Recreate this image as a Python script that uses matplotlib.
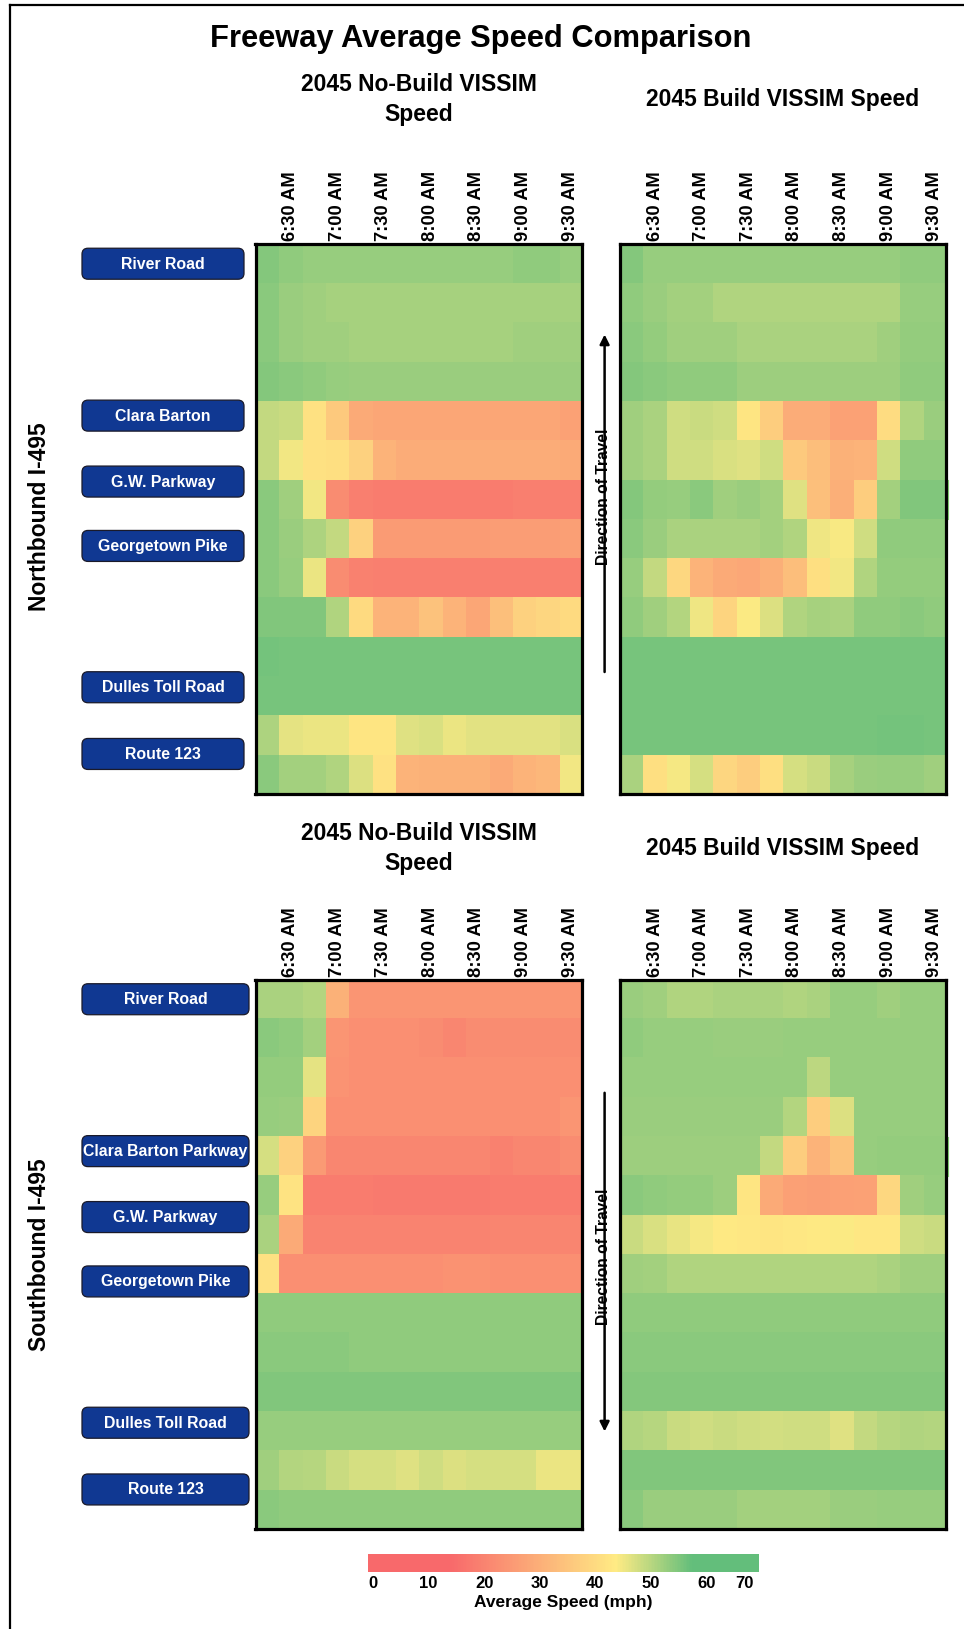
import numpy as np
import matplotlib
matplotlib.use("Agg")
import matplotlib.pyplot as plt
import matplotlib.colors as mcolors
from matplotlib import font_manager
from matplotlib.patches import FancyBboxPatch, FancyArrowPatch
from matplotlib.transforms import Affine2D
from matplotlib.cm import ScalarMappable
from matplotlib.lines import Line2D

# ---------------------------------------------------------------- data
intervals = ["6:15 AM", "6:30 AM", "6:45 AM", "7:00 AM", "7:15 AM", "7:30 AM", "7:45 AM",
             "8:00 AM", "8:15 AM", "8:30 AM", "8:45 AM", "9:00 AM", "9:15 AM", "9:30 AM"]

nb_labels = ["River Road", "Clara Barton", "G.W. Parkway", "Georgetown Pike",
             "Dulles Toll Road", "Route 123"]
sb_labels = ["River Road", "Clara Barton Parkway", "G.W. Parkway", "Georgetown Pike",
             "Dulles Toll Road", "Route 123"]

# average speed (mph), 14 segments (rows) x 14 fifteen-minute intervals (columns)
nb_nobuild = [
    [54.5, 53.5, 53, 53, 53, 53, 53, 53, 53, 53, 53, 53.5, 53.5, 53],
    [54, 52.5, 52, 51.5, 51.5, 51.5, 51.5, 51.5, 51.5, 51.5, 51.5, 51.5, 51.5, 51.5],
    [54, 52.5, 52, 52, 51.5, 51.5, 51.5, 51.5, 51.5, 51.5, 51.5, 52, 52, 52],
    [54.5, 54, 53.5, 53, 52.5, 52.5, 52.5, 52.5, 52.5, 52.5, 52.5, 52.5, 52.5, 52.5],
    [49, 48.5, 41.5, 36, 29, 28, 28, 28, 28, 28, 28, 28, 28, 27],
    [49, 45, 41.5, 41, 38, 31, 29.5, 29.5, 29.5, 29.5, 29.5, 29.5, 29.5, 29],
    [54, 52, 45, 22, 19, 18.5, 18.5, 18.5, 18.5, 18.5, 18.5, 19, 19, 19],
    [54, 52.5, 51, 49, 38, 25.5, 25.5, 25.5, 25.5, 25.5, 26, 26, 26, 26.5],
    [54, 53, 45.3, 22, 19.5, 19, 19, 19, 19, 19, 19, 19, 19, 19],
    [54.7, 54.7, 54.7, 50.8, 40, 31, 31, 34.5, 31, 28, 34, 38, 39, 40],
    [56, 55.5, 55.5, 55.5, 55.5, 55.5, 55.5, 55.5, 55.5, 55.5, 55.5, 55.5, 55.5, 55.5],
    [55.5, 55.5, 55.5, 55.5, 55.5, 55.5, 55.5, 55.5, 55.5, 55.5, 55.5, 55.5, 55.5, 55.5],
    [51, 46, 45.5, 45.5, 42.5, 42.5, 46.5, 47, 45.5, 46.2, 46.2, 46.2, 46.2, 47],
    [54, 51.7, 51.7, 50.8, 46.9, 41.5, 31, 30.7, 30.7, 30.7, 29, 31, 32, 45],
]

nb_build = [
    [54.5, 53, 53, 53, 53, 53, 53, 53, 53, 53, 53, 53, 53.5, 53.5],
    [53.5, 52.7, 51.7, 51.7, 50.8, 50.8, 50.8, 50.8, 50.8, 50.8, 50.8, 50.8, 53, 53],
    [54, 53.2, 52, 52, 52, 51.2, 51.2, 51.2, 51.2, 51.2, 51.2, 52, 53.2, 53.2],
    [54.5, 54, 53.5, 53.5, 53.5, 52.3, 52.3, 52.3, 52.3, 52.3, 52.3, 52.3, 53.5, 53.5],
    [52, 51.2, 48, 48.6, 47.8, 42.3, 37, 29.5, 29.5, 27, 27, 40.5, 50.8, 52.7],
    [52, 51.2, 48, 47.8, 47, 46.5, 48, 36, 33.5, 30.6, 31.2, 47.8, 53.5, 53.5],
    [54.5, 53.2, 53, 54, 52, 52.7, 51.7, 46.5, 34, 30, 37, 51.7, 54.7, 54.7],
    [54, 52.7, 51.2, 51.2, 51.2, 51.2, 51.7, 50.8, 45.1, 44.2, 47.8, 53.5, 53.5, 53.5],
    [53, 49, 39.3, 31.2, 28.8, 28.4, 30, 33.5, 41, 45, 50.8, 53.2, 53.2, 53.2],
    [53.5, 52, 50.4, 45.1, 38.5, 44, 46.9, 50.8, 51.5, 51.2, 53.5, 53.5, 54, 53.5],
    [55.5, 55.5, 55.5, 55.5, 55.5, 55.5, 55.5, 55.5, 55.5, 55.5, 55.5, 55.5, 55.5, 55.5],
    [55.5, 55.5, 55.5, 55.5, 55.5, 55.5, 55.5, 55.5, 55.5, 55.5, 55.5, 55.5, 55.5, 55.5],
    [55.5, 55.5, 55.5, 55.5, 55.5, 55.5, 55.5, 55.5, 55.5, 55.5, 55.5, 56, 56, 55.5],
    [51.2, 41, 44.5, 47.3, 39, 37, 41, 47.3, 48.6, 51.5, 52.7, 52.9, 52.9, 52],
]

sb_nobuild = [
    [51.2, 51.2, 50.4, 30.7, 24.2, 24.2, 24.2, 24.2, 24.2, 24.2, 24.2, 24.2, 24.2, 24.2],
    [54, 53.5, 51.7, 24.2, 23, 23, 23, 22, 20.8, 22, 22, 22, 22, 22],
    [53.2, 53.2, 46, 23.8, 23, 23, 23, 23, 23, 23, 23, 23, 23, 23],
    [53, 52.7, 38.5, 23, 23, 23, 23, 23, 23, 23, 23, 23, 23, 24.2],
    [47.3, 38, 25.4, 20.8, 20.8, 20.8, 20.8, 20.8, 20.8, 20.8, 19.6, 20.8, 20.8, 22],
    [53, 42.2, 18.5, 18.5, 18.5, 18, 18, 18, 18, 18, 18.5, 18.5, 18.5, 18.5],
    [51.2, 28.8, 20.1, 20.1, 20.1, 20.1, 20.1, 20.1, 20.1, 20.1, 20.5, 20.5, 20.5, 20.5],
    [41.5, 23, 23, 23, 23, 23, 23, 23, 23.5, 23.5, 23, 23, 23, 23],
    [53.5, 53.5, 53.5, 53.5, 53.5, 53.5, 53.5, 53.5, 53.5, 53.5, 53.5, 53.5, 53.5, 53.5],
    [54, 54, 54, 54, 53.5, 53.5, 53.5, 53.5, 53.5, 53.5, 53.5, 53.5, 53.5, 53.5],
    [54.7, 54.7, 54.7, 54.7, 54.7, 54.7, 54.7, 54.7, 54.7, 54.7, 54.7, 54.7, 54.7, 54.7],
    [53, 53, 53, 53, 53, 53, 53, 53, 53, 53, 53, 53, 53, 53],
    [52, 50.4, 50, 48.6, 47.3, 47.3, 46.5, 47.8, 46.7, 47.3, 47.3, 47.3, 45.5, 45.5],
    [54, 53.5, 53.5, 53.5, 53.5, 53.5, 53.5, 53.5, 53.5, 53.5, 53.5, 53.5, 53.5, 53.5],
]

sb_build = [
    [52.7, 52, 50.8, 50.8, 51.2, 51.2, 51.2, 50.8, 51.2, 53, 53, 52, 53, 53],
    [53.5, 53, 53, 53, 52.7, 52.7, 52.7, 53, 53, 53, 53, 53, 53, 53],
    [52.9, 52.9, 52.9, 52.9, 52.9, 52.9, 52.9, 52.9, 49.7, 53, 53, 53, 53, 53],
    [52.7, 52.7, 52.7, 52.7, 52.7, 52.7, 52.7, 50.4, 37, 46.9, 53, 53, 53, 53],
    [52.4, 52.4, 52.4, 52.4, 52.4, 52.4, 49, 37, 31.2, 34.5, 53, 53.2, 53.2, 53.2],
    [54, 53.5, 53.2, 53.2, 52.4, 42.3, 28.8, 26.6, 26.2, 26.6, 27, 39.3, 52, 53],
    [48.6, 47, 45.8, 44.7, 43.5, 43, 42.5, 43, 43.5, 44, 43, 43, 48, 48.6],
    [52, 51.7, 50.8, 50.8, 50.8, 50.8, 50.8, 50.8, 50.8, 50.8, 50.8, 51.2, 52, 52],
    [53.5, 53.5, 53.5, 53.5, 53.5, 53.5, 53.5, 53.5, 53.5, 53.5, 53.5, 53.5, 53.5, 53.5],
    [54, 54, 54, 54, 54, 54, 54, 54, 54, 54, 54, 54, 54, 54],
    [54.5, 54.5, 54.5, 54.5, 54.5, 54.5, 54.5, 54.5, 54.5, 54.5, 54.5, 54.5, 54.5, 54.5],
    [50.8, 50, 48.6, 48, 48.6, 47.8, 47.6, 47.8, 48, 46.5, 49, 50, 50.8, 50.4],
    [54.7, 54.7, 54.7, 54.7, 54.7, 54.7, 54.7, 54.7, 54.7, 54.7, 54.7, 54.7, 54.7, 54.7],
    [54, 52.7, 52.7, 52.7, 52.7, 51.7, 51.7, 51.7, 51.7, 52.7, 52.7, 53, 53, 53],
]

speed_ticks = [0, 10, 20, 30, 40, 50, 60, 70]


# ---------------------------------------------------------------- fonts
def font_available(name):
    try:
        font_manager.findfont(font_manager.FontProperties(family=name),
                              fallback_to_default=False)
        return True
    except ValueError:
        return False


BASE = "Liberation Sans"
NARROW = "Liberation Sans Narrow" if font_available("Liberation Sans Narrow") else BASE
narrow_scale = 1.0 if NARROW != BASE else 0.83
plt.rcParams["font.family"] = [BASE, "DejaVu Sans"]

# ---------------------------------------------------------------- figure
W, H, DPI = 964, 1629, 100
fig = plt.figure(figsize=(W / DPI, H / DPI), dpi=DPI)
fig.patch.set_facecolor("white")
# pixel coordinates measured from the top-left corner
px = Affine2D().scale(1 / DPI, -1 / DPI).translate(0, H / DPI) + fig.dpi_scale_trans

# outer frame (top and left edges)
fig.add_artist(Line2D([10, W], [4.5, 4.5], transform=px, color="black", lw=1.6))
fig.add_artist(Line2D([10, 10], [4.5, H], transform=px, color="black", lw=1.6))

# colour scale: red -> yellow -> green with nonlinear bar spacing
bar_speed = [-1, 0, 60, 70, 73.8]
bar_frac = [0.0, 0.013, 0.865, 0.963, 1.0]
norm = mcolors.FuncNorm((lambda v: np.interp(v, bar_speed, bar_frac),
                         lambda f: np.interp(f, bar_frac, bar_speed)),
                        vmin=bar_speed[0], vmax=bar_speed[-1])
cmap = mcolors.LinearSegmentedColormap.from_list(
    "speed", [(0.0, "#F8696B"), (0.21, "#F8696B"), (0.635, "#FFEB84"),
              (0.83, "#63BE7B"), (1.0, "#63BE7B")])

PANEL_X = [255.5, 620.2]
PANEL_W = 326.2
PANEL_TOP = [244.1, 979.6]
PANEL_H = 549.5
ROWS = 14
ROW_H = PANEL_H / ROWS


def heat_panel(x, y, data):
    ax = fig.add_axes([x / W, 1 - (y + PANEL_H) / H, PANEL_W / W, PANEL_H / H])
    ax.imshow(np.array(data, dtype=float), cmap=cmap, norm=norm,
              aspect="auto", interpolation="nearest")
    ax.set_xticks(range(1, len(intervals), 2))
    ax.set_xticklabels(intervals[1::2], rotation=90, fontsize=13.2, fontweight="bold")
    ax.xaxis.tick_top()
    ax.tick_params(axis="x", length=0, pad=2)
    ax.set_yticks([])
    for s in ax.spines.values():
        s.set_linewidth(2.3)
        s.set_color("black")
    return ax


label_rows = [0.5, 4.37, 6.05, 7.69, 11.29, 12.99]


def label_boxes(top, labels, width):
    for name, r in zip(labels, label_rows):
        cy = top + r * ROW_H
        box = FancyBboxPatch((82, cy - 15.5), width, 31,
                             boxstyle="round,pad=0,rounding_size=6",
                             transform=px, facecolor="#103892",
                             edgecolor="#1a1a2a", lw=0.9)
        fig.add_artist(box)
        fig.text(82 + width / 2, cy + 0.5, name, transform=px, ha="center", va="center",
                 color="white", fontsize=13.8 * narrow_scale, fontweight="bold",
                 family=[NARROW, "DejaVu Sans"])


def direction(x, y_tail, y_head, y_text):
    fig.add_artist(FancyArrowPatch((x, y_tail), (x, y_head), transform=px,
                                   arrowstyle="-|>", mutation_scale=14, lw=1.8,
                                   color="black", shrinkA=0, shrinkB=0))
    fig.text(x - 1, y_text, "Direction of Travel", transform=px, rotation=90,
             ha="center", va="center", fontsize=13.6 * narrow_scale, fontweight="bold",
             family=[NARROW, "DejaVu Sans"])


# title
fig.text(481, 39, "Freeway Average Speed Comparison", transform=px,
         ha="center", va="center", fontsize=22.2, fontweight="bold")

sections = [
    dict(top=PANEL_TOP[0], labels=nb_labels, box_w=162, data=(nb_nobuild, nb_build),
         side="Northbound I-495", side_y=517, sub_y=(99.5, 99.5),
         arrow=(672, 334.5, 496.5), sliver_row=6),
    dict(top=PANEL_TOP[1], labels=sb_labels, box_w=167, data=(sb_nobuild, sb_build),
         side="Southbound I-495", side_y=1255, sub_y=(848.5, 848),
         arrow=(1092.8, 1431.5, 1257), sliver_row=4),
]

for sec in sections:
    top = sec["top"]
    heat_panel(PANEL_X[0], top, sec["data"][0])
    heat_panel(PANEL_X[1], top, sec["data"][1])
    fig.text(418.6, sec["sub_y"][0], "2045 No-Build VISSIM\nSpeed", transform=px,
             ha="center", va="center", fontsize=16.5, fontweight="bold",
             linespacing=1.42)
    fig.text(783, sec["sub_y"][1], "2045 Build VISSIM Speed", transform=px,
             ha="center", va="center", fontsize=16.5, fontweight="bold")
    fig.text(39.5, sec["side_y"], sec["side"], transform=px, rotation=90,
             ha="center", va="center", fontsize=16.5, fontweight="bold")
    label_boxes(top, sec["labels"], sec["box_w"])
    direction(604.6, *sec["arrow"])
    # thin green edge just right of the build panel
    r0 = top + sec["sliver_row"] * ROW_H
    fig.add_artist(Line2D([948.2, 948.2], [r0, r0 + ROW_H], transform=px,
                          color="#7CC46C", lw=0.8))

# colour bar
cax = fig.add_axes([368 / W, 1 - 1572 / H, (759 - 368) / W, 18 / H])
cb = fig.colorbar(ScalarMappable(norm=norm, cmap=cmap), cax=cax,
                  orientation="horizontal", ticks=speed_ticks)
cb.outline.set_visible(False)
cax.tick_params(axis="x", length=0, pad=3)
cax.set_xticklabels([str(t) for t in speed_ticks], fontsize=12, fontweight="bold")
cax.set_xlabel("Average Speed (mph)", fontsize=12.5, fontweight="bold", labelpad=3)

fig.savefig("out.png", dpi=DPI, facecolor="white")
